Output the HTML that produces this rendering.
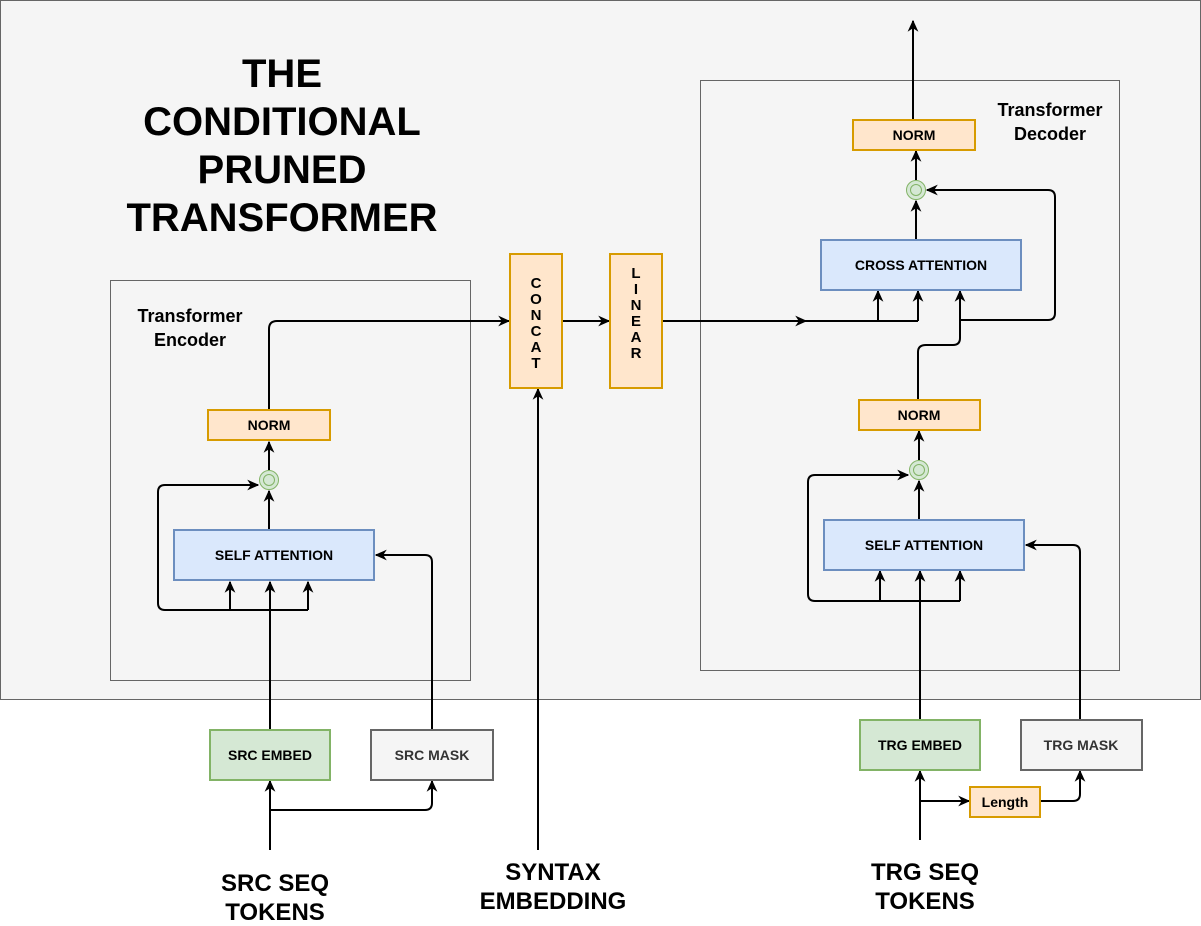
<!DOCTYPE html>
<html><head><meta charset="utf-8"><style>
html,body{margin:0;padding:0;background:#fff}
svg{display:block}
text{font-family:"Liberation Sans",Arial,sans-serif;font-weight:bold;fill:#000}
</style></head><body>
<svg width="1201" height="926" viewBox="0 0 1201 926" xmlns="http://www.w3.org/2000/svg">
<defs>
<marker id="a" viewBox="0 0 10 10" refX="9" refY="5" markerWidth="12" markerHeight="12" orient="auto" markerUnits="userSpaceOnUse">
<path d="M0,0.5 L10,5 L0,9.5 L3,5 Z" fill="#000"/></marker>
</defs>
<rect x="0.5" y="0.5" width="1200" height="699" fill="#f5f5f5" stroke="#666"/>
<rect x="110.5" y="280.5" width="360" height="400" fill="none" stroke="#666"/>
<rect x="700.5" y="80.5" width="419" height="590" fill="none" stroke="#666"/>

<g font-size="40" text-anchor="middle">
<text x="282" y="87">THE</text>
<text x="282" y="135">CONDITIONAL</text>
<text x="282" y="183">PRUNED</text>
<text x="282" y="231">TRANSFORMER</text>
</g>
<g font-size="18" text-anchor="middle">
<text x="190" y="322">Transformer</text>
<text x="190" y="346">Encoder</text>
<text x="1050" y="116">Transformer</text>
<text x="1050" y="140">Decoder</text>
</g>

<g fill="none" stroke="#000" stroke-width="2">
<path d="M270 730 V582" marker-end="url(#a)"/>
<path d="M230 610 V582" marker-end="url(#a)"/>
<path d="M308 610 V582" marker-end="url(#a)"/>
<path d="M308 610 H165 Q158 610 158 603 V492 Q158 485 165 485 H258" marker-end="url(#a)"/>
<path d="M269 530 V491" marker-end="url(#a)"/>
<path d="M269 470 V442" marker-end="url(#a)"/>
<path d="M269 410 V329 Q269 321 277 321 H509" marker-end="url(#a)"/>
<path d="M432 730 V562 Q432 555 425 555 H376" marker-end="url(#a)"/>
<path d="M270 850 V781" marker-end="url(#a)"/>
<path d="M270 810 H425 Q432 810 432 803 V781" marker-end="url(#a)"/>
<path d="M562 321 H609" marker-end="url(#a)"/>
<path d="M538 850 V389" marker-end="url(#a)"/>
<path d="M662 321 H806" marker-end="url(#a)"/>
<path d="M805 321 H918"/>
<path d="M878 321 V291" marker-end="url(#a)"/>
<path d="M918 321 V291" marker-end="url(#a)"/>
<path d="M918 400 V352 Q918 345 926 345 H953 Q960 345 960 338 V291" marker-end="url(#a)"/>
<path d="M960 320 H1048 Q1055 320 1055 313 V197 Q1055 190 1048 190 H927" marker-end="url(#a)"/>
<path d="M916 240 V201" marker-end="url(#a)"/>
<path d="M916 180 V151" marker-end="url(#a)"/>
<path d="M913 120 V21" marker-end="url(#a)"/>
<path d="M920 720 V571" marker-end="url(#a)"/>
<path d="M880 601 V571" marker-end="url(#a)"/>
<path d="M960 601 V571" marker-end="url(#a)"/>
<path d="M960 601 H815 Q808 601 808 594 V482 Q808 475 815 475 H908" marker-end="url(#a)"/>
<path d="M919 520 V481" marker-end="url(#a)"/>
<path d="M919 460 V431" marker-end="url(#a)"/>
<path d="M1080 720 V552 Q1080 545 1073 545 H1026" marker-end="url(#a)"/>
<path d="M920 840 V771" marker-end="url(#a)"/>
<path d="M920 801 H969" marker-end="url(#a)"/>
<path d="M1041 801 H1073 Q1080 801 1080 794 V771" marker-end="url(#a)"/>
</g>

<g stroke-width="2">
<rect x="208" y="410" width="122" height="30" fill="#ffe6cc" stroke="#d79b00"/>
<rect x="174" y="530" width="200" height="50" fill="#dae8fc" stroke="#6c8ebf"/>
<rect x="210" y="730" width="120" height="50" fill="#d5e8d4" stroke="#82b366"/>
<rect x="371" y="730" width="122" height="50" fill="#f5f5f5" stroke="#666"/>
<rect x="510" y="254" width="52" height="134" fill="#ffe6cc" stroke="#d79b00"/>
<rect x="610" y="254" width="52" height="134" fill="#ffe6cc" stroke="#d79b00"/>
<rect x="853" y="120" width="122" height="30" fill="#ffe6cc" stroke="#d79b00"/>
<rect x="821" y="240" width="200" height="50" fill="#dae8fc" stroke="#6c8ebf"/>
<rect x="859" y="400" width="121" height="30" fill="#ffe6cc" stroke="#d79b00"/>
<rect x="824" y="520" width="200" height="50" fill="#dae8fc" stroke="#6c8ebf"/>
<rect x="860" y="720" width="120" height="50" fill="#d5e8d4" stroke="#82b366"/>
<rect x="1021" y="720" width="121" height="50" fill="#f5f5f5" stroke="#666"/>
<rect x="970" y="787" width="70" height="30" fill="#ffe6cc" stroke="#d79b00"/>
</g>
<g fill="#d5e8d4" stroke="#82b366">
<circle cx="269" cy="480" r="9.5"/><circle cx="269" cy="480" r="5.5"/>
<circle cx="916" cy="190" r="9.5"/><circle cx="916" cy="190" r="5.5"/>
<circle cx="919" cy="470" r="9.5"/><circle cx="919" cy="470" r="5.5"/>
</g>

<g font-size="14" text-anchor="middle">
<text x="269" y="430">NORM</text>
<text x="274" y="560">SELF ATTENTION</text>
<text x="270" y="760">SRC EMBED</text>
<text x="432" y="760" style="fill:#333">SRC MASK</text>
<text x="914" y="140">NORM</text>
<text x="921" y="270">CROSS ATTENTION</text>
<text x="919" y="420">NORM</text>
<text x="924" y="550">SELF ATTENTION</text>
<text x="920" y="750">TRG EMBED</text>
<text x="1081" y="750" style="fill:#333">TRG MASK</text>
<text x="1005" y="807">Length</text>
</g>
<g font-size="15" text-anchor="middle">
<text x="536" y="288">C</text><text x="536" y="304">O</text><text x="536" y="320">N</text><text x="536" y="336">C</text><text x="536" y="352">A</text><text x="536" y="368">T</text>
<text x="636" y="278">L</text><text x="636" y="294">I</text><text x="636" y="310">N</text><text x="636" y="326">E</text><text x="636" y="342">A</text><text x="636" y="358">R</text>
</g>
<g font-size="24" text-anchor="middle">
<text x="275" y="891">SRC SEQ</text><text x="275" y="920">TOKENS</text>
<text x="553" y="880">SYNTAX</text><text x="553" y="909">EMBEDDING</text>
<text x="925" y="880">TRG SEQ</text><text x="925" y="909">TOKENS</text>
</g>
</svg>
</body></html>
